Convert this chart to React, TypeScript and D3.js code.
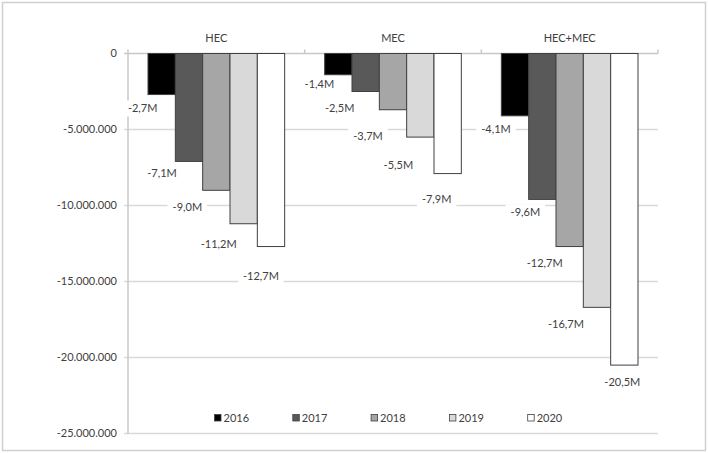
import React from "react";
import * as d3 from "d3";

const categories = ["HEC", "MEC", "HEC+MEC"];
const years = ["2016", "2017", "2018", "2019", "2020"];
const values2016 = [-2.7e6, -1.4e6, -4.1e6];
const values2017 = [-7.1e6, -2.5e6, -9.6e6];
const values2018 = [-9.0e6, -3.7e6, -12.7e6];
const values2019 = [-11.2e6, -5.5e6, -16.7e6];
const values2020 = [-12.7e6, -7.9e6, -20.5e6];
const labels2016 = ["-2,7M", "-1,4M", "-4,1M"];
const labels2017 = ["-7,1M", "-2,5M", "-9,6M"];
const labels2018 = ["-9,0M", "-3,7M", "-12,7M"];
const labels2019 = ["-11,2M", "-5,5M", "-16,7M"];
const labels2020 = ["-12,7M", "-7,9M", "-20,5M"];
const yTicks = [0, -5e6, -10e6, -15e6, -20e6, -25e6];
const yTickLabels = ["0", "-5.000.000", "-10.000.000", "-15.000.000", "-20.000.000", "-25.000.000"];

// layout nudges for the (manually placed) data labels: [dx, dy] from bar centre / bar end
const labelNudge = [
  [[-19, 14], [-27, 12], [-29, 17], [-25, 20], [-10, 30]],
  [[-19, 9], [-26, 17], [-25, 26], [-22, 28], [-11, 26]],
  [[-19, 13], [-17, 13], [-25, 17], [-31, 17], [-2, 17]],
];

const seriesValues = [values2016, values2017, values2018, values2019, values2020];
const seriesLabels = [labels2016, labels2017, labels2018, labels2019, labels2020];
const colors = ["#000000", "#595959", "#a6a6a6", "#d9d9d9", "#ffffff"];

const W = 708;
const H = 453;
const FONT = "Lato, 'Liberation Sans', sans-serif";
const TXT = "#404040";

export default function App() {
  const plotL = 128;
  const plotR = 658;
  const y = d3.scaleLinear().domain([-25e6, 0]).range([433.5, 53.5]);
  const x0 = d3.scaleBand<string>().domain(categories).range([plotL, plotR]).paddingInner(0).paddingOuter(0);
  const x1 = d3
    .scaleBand<string>()
    .domain(years)
    .range([0, x0.bandwidth()])
    .paddingInner(0)
    .paddingOuter(0.732);
  const bw = x1.bandwidth();

  const bars: any[] = [];
  const labels: any[] = [];
  categories.forEach((c, ci) => {
    years.forEach((yr, si) => {
      const v = seriesValues[si][ci];
      const bx = (x0(c) as number) + (x1(yr) as number);
      const top = y(0);
      const bot = y(v);
      bars.push(
        <rect
          key={`b-${c}-${yr}`}
          x={bx}
          y={top}
          width={bw}
          height={bot - top}
          fill={colors[si]}
          stroke="#404040"
          strokeWidth={1}
        />
      );
      const [dx, dy] = labelNudge[ci][si];
      const lx = bx + bw / 2 + dx;
      const ly = bot + dy;
      const txt = seriesLabels[si][ci];
      const tw = txt.length * 5.9;
      labels.push(
        <g key={`l-${c}-${yr}`}>
          <rect x={lx - tw / 2 - 5} y={ly - 8} width={tw + 10} height={16} fill="#ffffff" />
          <text
            x={lx}
            y={ly}
            dy="0.35em"
            textAnchor="middle"
            fontSize={11}
            fontFamily={FONT}
            fill={TXT}
          >
            {txt}
          </text>
        </g>
      );
    });
  });

  const legendX0 = 214;
  const legendStep = 78.3;
  const legendY = 418;

  return (
    <svg
      width={W}
      height={H}
      style={{ position: "fixed", left: 0, top: 0, background: "#fff" }}
      xmlns="http://www.w3.org/2000/svg"
    >
      <rect x={0} y={0} width={W} height={H} fill="#ffffff" />
      <rect x={2.5} y={2.5} width={703} height={448} fill="none" stroke="#d0d0d0" strokeWidth={1.5} />

      {/* gridlines + y ticks */}
      {yTicks.map((t, i) => (
        <g key={`g-${t}`}>
          <line
            x1={plotL - 4}
            x2={plotR}
            y1={y(t)}
            y2={y(t)}
            stroke={t === 0 ? "#c8c8c8" : "#d9d9d9"}
            strokeWidth={1.5}
          />
          <text
            x={117}
            y={y(t)}
            dy="0.35em"
            textAnchor="end"
            fontSize={11}
            fontFamily={FONT}
            fill={TXT}
          >
            {yTickLabels[i]}
          </text>
        </g>
      ))}
      {/* vertical axis line */}
      <line x1={plotL} x2={plotL} y1={y(0)} y2={y(-25e6)} stroke="#c8c8c8" strokeWidth={1.5} />
      {/* category ticks */}
      {[...categories.map((c) => x0(c) as number), plotR].map((xx, i) => (
        <line key={`ct-${i}`} x1={xx} x2={xx} y1={y(0)} y2={y(0) - 4} stroke="#c8c8c8" strokeWidth={1.5} />
      ))}

      {bars}
      {labels}

      {/* category titles */}
      {categories.map((c) => (
        <text
          key={`cat-${c}`}
          x={(x0(c) as number) + x0.bandwidth() / 2}
          y={38.5}
          dy="0.35em"
          textAnchor="middle"
          fontSize={11}
          fontFamily={FONT}
          fill={TXT}
        >
          {c}
        </text>
      ))}

      {/* legend */}
      {years.map((yr, i) => (
        <g key={`lg-${yr}`} transform={`translate(${legendX0 + i * legendStep},${legendY})`}>
          <rect x={0.5} y={-3.5} width={6.5} height={6.5} fill={colors[i]} stroke="#404040" strokeWidth={0.8} />
          <text x={9.5} y={0} dy="0.35em" fontSize={11} fontFamily={FONT} fill={TXT}>
            {yr}
          </text>
        </g>
      ))}
    </svg>
  );
}
